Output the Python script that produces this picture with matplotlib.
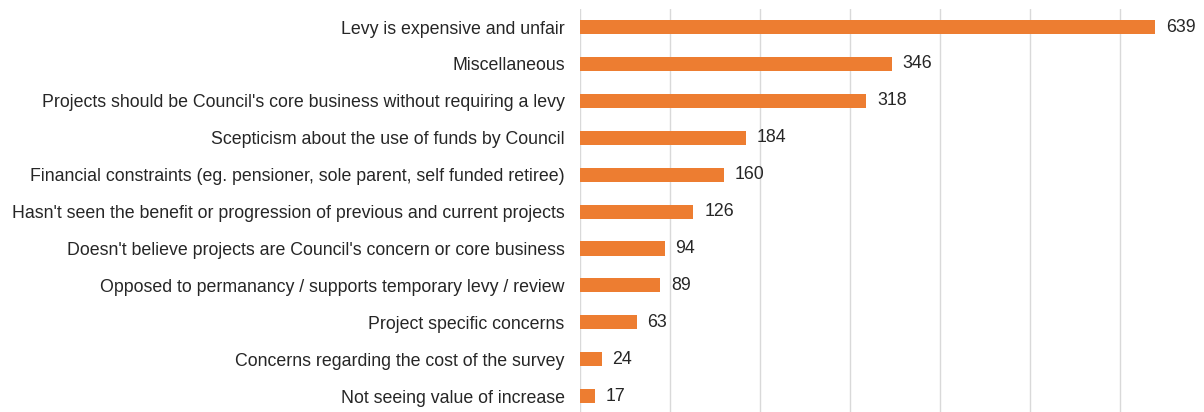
import matplotlib
matplotlib.use("Agg")
import matplotlib.pyplot as plt

categories = [
    "Levy is expensive and unfair",
    "Miscellaneous",
    "Projects should be Council's core business without requiring a levy",
    "Scepticism about the use of funds by Council",
    "Financial constraints (eg. pensioner, sole parent, self funded retiree)",
    "Hasn't seen the benefit or progression of previous and current projects",
    "Doesn't believe projects are Council's concern or core business",
    "Opposed to permanancy / supports temporary levy / review",
    "Project specific concerns",
    "Concerns regarding the cost of the survey",
    "Not seeing value of increase",
]
values = [639, 346, 318, 184, 160, 126, 94, 89, 63, 24, 17]
grid_ticks = [0, 100, 200, 300, 400, 500, 600]

plt.rcParams['font.family'] = ['Liberation Sans', 'DejaVu Sans']

W, H = 1204, 412
fig = plt.figure(figsize=(W / 100, H / 100), dpi=100)
left_px, right_px = 580, 1204
top_px, bot_px = 8.6, 414.6
ax = fig.add_axes([left_px / W, (H - bot_px) / H, (right_px - left_px) / W, (bot_px - top_px) / H])

ypos = list(range(len(categories)))
ax.barh(ypos, values, height=0.38, color="#ED7D31", zorder=3)
for y, v in zip(ypos, values):
    ax.text(v + 12, y, str(v), va="center", ha="left", fontsize=12.8, color="#262626")

ax.set_ylim(len(categories) - 0.5, -0.5)
ax.set_xlim(0, 693)
ax.set_yticks(ypos)
ax.set_yticklabels(categories, fontsize=12.8, color="#262626")
ax.set_xticks(grid_ticks)
ax.tick_params(axis="x", length=0, labelbottom=False)
ax.tick_params(axis="y", length=0, pad=11)
ax.grid(axis="x", color="#D9D9D9", linewidth=1, zorder=0)
for s in ax.spines.values():
    s.set_visible(False)

fig.savefig("out.png", dpi=100)
